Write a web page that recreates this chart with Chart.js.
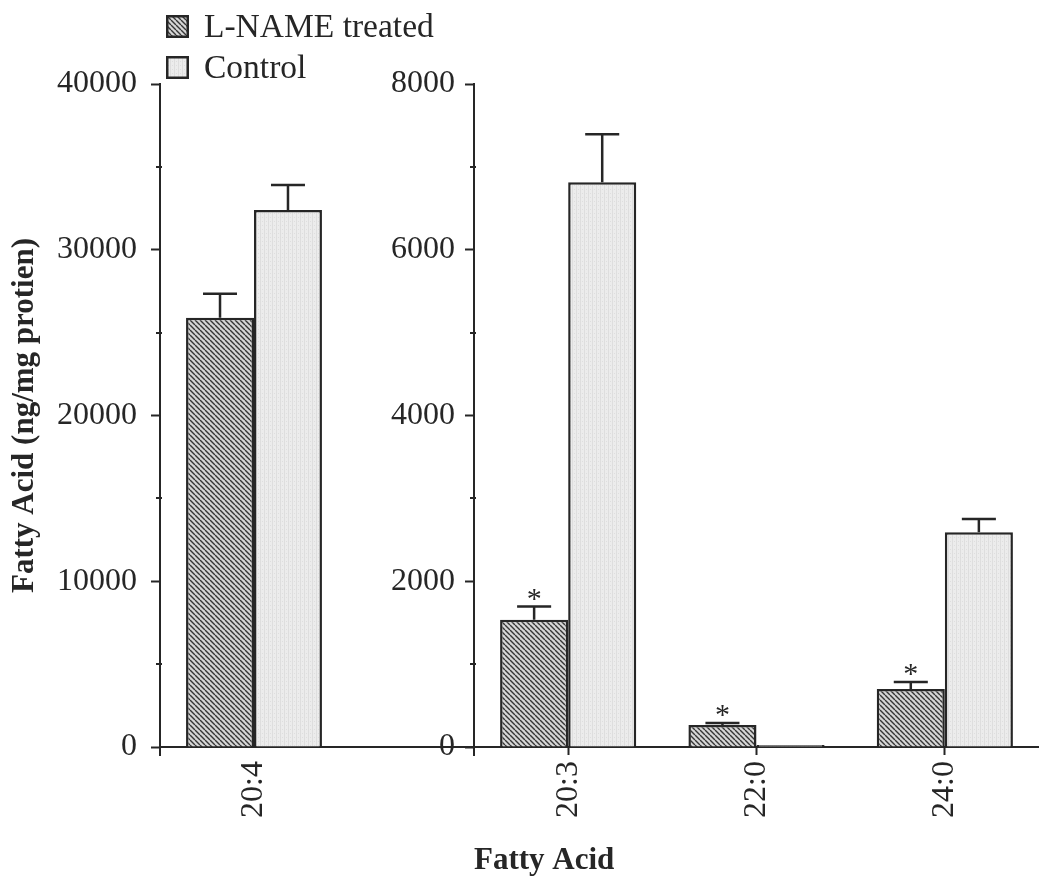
<!DOCTYPE html>
<html>
<head>
<meta charset="utf-8">
<script src="https://cdn.jsdelivr.net/npm/chart.js@4.4.0/dist/chart.umd.min.js"></script>
<style>
  html, body { margin: 0; padding: 0; background: #fff; }
  #wrap { position: relative; width: 1039px; height: 882px; overflow: hidden; background: #fff; }
  #leftChart { position: absolute; left: 0; top: 0; }
  #rightChart { position: absolute; left: 340px; top: 0; }
  .key { position: absolute; left: 166px; height: 40px; display: flex; align-items: center;
         font-family: "Liberation Serif", "Times New Roman", serif; font-size: 33.5px; color: #262626; }
  .key canvas { width: 23px; height: 23px; margin-right: 15px; }
</style>
</head>
<body>
<div id="wrap">
  <canvas id="leftChart" width="474" height="882"></canvas>
  <canvas id="rightChart" width="699" height="882"></canvas>
  <div class="key" style="top:6px"><canvas id="keyTreated" width="23" height="23"></canvas><span>L-NAME treated</span></div>
  <div class="key" style="top:47px"><canvas id="keyControl" width="23" height="23"></canvas><span>Control</span></div>
</div>
<script>
// ---- data: arachidonic acid (own scale) ----
const leftCategories   = ['20:4'];
const leftTreated      = [25900];
const leftTreatedErr   = [1450];
const leftTreatedSig   = [false];
const leftControl      = [32400];
const leftControlErr   = [1500];
const leftYMax = 40000, leftYStep = 10000;

// ---- data: other fatty acids ----
const rightCategories  = ['20:3', '22:0', '24:0'];
const rightTreated     = [1535, 265, 700];
const rightTreatedErr  = [160, 25, 85];
const rightTreatedSig  = [true, true, true];
const rightControl     = [6815, 25, 2590];
const rightControlErr  = [580, 0, 160];
const rightYMax = 8000, rightYStep = 2000;

const seriesNames = ['L-NAME treated', 'Control'];

const INK = '#262626';
const SERIF = '"Liberation Serif", "Times New Roman", serif';

function hatchPattern() {
  const s = 5;
  const c = document.createElement('canvas');
  c.width = s; c.height = s;
  const g = c.getContext('2d');
  g.fillStyle = '#d6d6d6';
  g.fillRect(0, 0, s, s);
  g.strokeStyle = '#363636';
  g.lineWidth = 1.4;
  g.beginPath();
  for (const o of [-s, 0, s]) { g.moveTo(o, 0); g.lineTo(o + s, s); }
  g.stroke();
  return g.createPattern(c, 'repeat');
}

function stipplePattern() {
  const c = document.createElement('canvas');
  c.width = 4; c.height = 4;
  const g = c.getContext('2d');
  g.fillStyle = '#ececec';
  g.fillRect(0, 0, 4, 4);
  g.fillStyle = '#dedede';
  g.fillRect(0, 0, 1, 4);
  g.fillRect(2, 1, 1, 1);
  return g.createPattern(c, 'repeat');
}

const treatedFill = hatchPattern();
const controlFill = stipplePattern();

// legend swatches
function drawSwatch(id, fill) {
  const g = document.getElementById(id).getContext('2d');
  g.fillStyle = fill;
  g.fillRect(0, 0, 23, 23);
  g.strokeStyle = INK;
  g.lineWidth = 2.5;
  g.strokeRect(1.25, 1.25, 20.5, 20.5);
}
drawSwatch('keyTreated', treatedFill);
drawSwatch('keyControl', controlFill);

// upward error bars plus significance asterisks
const errorBars = {
  id: 'errorBars',
  afterDatasetsDraw(chart) {
    const ctx = chart.ctx;
    const y = chart.scales.y;
    chart.data.datasets.forEach((ds, di) => {
      const meta = chart.getDatasetMeta(di);
      meta.data.forEach((bar, i) => {
        const err = ds.errors[i];
        const top = y.getPixelForValue(ds.data[i] + (err || 0));
        ctx.save();
        if (err) {
          const half = bar.width / 4;
          ctx.strokeStyle = INK;
          ctx.lineWidth = 2.5;
          ctx.beginPath();
          ctx.moveTo(bar.x, bar.y);
          ctx.lineTo(bar.x, top);
          ctx.moveTo(bar.x - half, top);
          ctx.lineTo(bar.x + half, top);
          ctx.stroke();
        }
        if (ds.sig && ds.sig[i]) {
          ctx.fillStyle = INK;
          ctx.font = '30px ' + SERIF;
          ctx.textAlign = 'center';
          ctx.textBaseline = 'alphabetic';
          ctx.fillText('*', bar.x, top + 1);
        }
        ctx.restore();
      });
    });
  }
};

// minor y ticks, y-axis stub below the baseline, baseline run-out to the right
const axisExtras = {
  id: 'axisExtras',
  afterDraw(chart, args, opts) {
    const ctx = chart.ctx;
    const y = chart.scales.y;
    const a = chart.chartArea;
    ctx.save();
    ctx.strokeStyle = INK;
    ctx.lineWidth = 2;
    ctx.beginPath();
    for (let v = opts.step / 2; v < y.max; v += opts.step) {
      const py = Math.round(y.getPixelForValue(v));
      ctx.moveTo(a.left - 4, py);
      ctx.lineTo(a.left + 2, py);
    }
    ctx.moveTo(a.left, a.bottom);
    ctx.lineTo(a.left, a.bottom + 9);
    if (opts.extendRight) {
      ctx.moveTo(a.right, a.bottom);
      ctx.lineTo(chart.width, a.bottom);
    }
    ctx.stroke();
    ctx.restore();
  }
};

function makeDatasets(treated, tErr, tSig, control, cErr) {
  return [
    { label: seriesNames[0], data: treated, errors: tErr, sig: tSig,
      backgroundColor: treatedFill, borderColor: INK, borderWidth: 2.5 },
    { label: seriesNames[1], data: control, errors: cErr, sig: null,
      backgroundColor: controlFill, borderColor: INK, borderWidth: 2.5 }
  ];
}

function baseOptions(cfg) {
  return {
    responsive: false,
    animation: false,
    events: [],
    layout: { padding: { top: 84, right: cfg.padRight, bottom: 0, left: 0 } },
    datasets: { bar: { categoryPercentage: 0.723, barPercentage: 1.0 } },
    plugins: {
      legend: { display: false },
      tooltip: { enabled: false },
      axisExtras: { step: cfg.step, extendRight: cfg.extendRight }
    },
    scales: {
      x: {
        grid: { drawOnChartArea: false, offset: false, tickLength: 8, tickWidth: 2,
                tickColor: cfg.xTicks ? INK : 'rgba(0,0,0,0)' },
        border: { color: INK, width: 2 },
        ticks: { font: { family: SERIF, size: 32 }, color: INK, minRotation: 90, maxRotation: 90, padding: 6 },
        title: cfg.xTitle ? { display: true, text: cfg.xTitle, align: 'start',
                 font: { family: SERIF, size: 31, weight: 'bold' }, color: INK, padding: { top: 0, bottom: 2 } }
               : { display: false },
        afterFit: s => { s.height = 135; }
      },
      y: {
        min: 0, max: cfg.max,
        ticks: { stepSize: cfg.step, font: { family: SERIF, size: 32 }, color: INK, padding: cfg.tickPad,
                 callback: v => String(v) },
        grid: { drawOnChartArea: false, tickLength: 9, tickWidth: 2, tickColor: INK },
        border: { color: INK, width: 2 },
        title: cfg.yTitle ? { display: true, text: cfg.yTitle,
                 font: { family: SERIF, size: 31, weight: 'bold' }, color: INK, padding: { top: 6, bottom: 0 } }
               : { display: false },
        afterFit: s => { s.width = cfg.yWidth; }
      }
    }
  };
}

new Chart(document.getElementById('leftChart'), {
  type: 'bar',
  data: { labels: leftCategories,
          datasets: makeDatasets(leftTreated, leftTreatedErr, leftTreatedSig, leftControl, leftControlErr) },
  options: baseOptions({ padRight: 126, step: leftYStep, max: leftYMax, extendRight: true, xTicks: false,
                         yWidth: 160, tickPad: 14, yTitle: 'Fatty Acid (ng/mg protien)' }),
  plugins: [errorBars, axisExtras]
});

new Chart(document.getElementById('rightChart'), {
  type: 'bar',
  data: { labels: rightCategories,
          datasets: makeDatasets(rightTreated, rightTreatedErr, rightTreatedSig, rightControl, rightControlErr) },
  options: baseOptions({ padRight: 0, step: rightYStep, max: rightYMax, extendRight: false, xTicks: true,
                         yWidth: 134, tickPad: 10, xTitle: 'Fatty Acid' }),
  plugins: [errorBars, axisExtras]
});
</script>
</body>
</html>
